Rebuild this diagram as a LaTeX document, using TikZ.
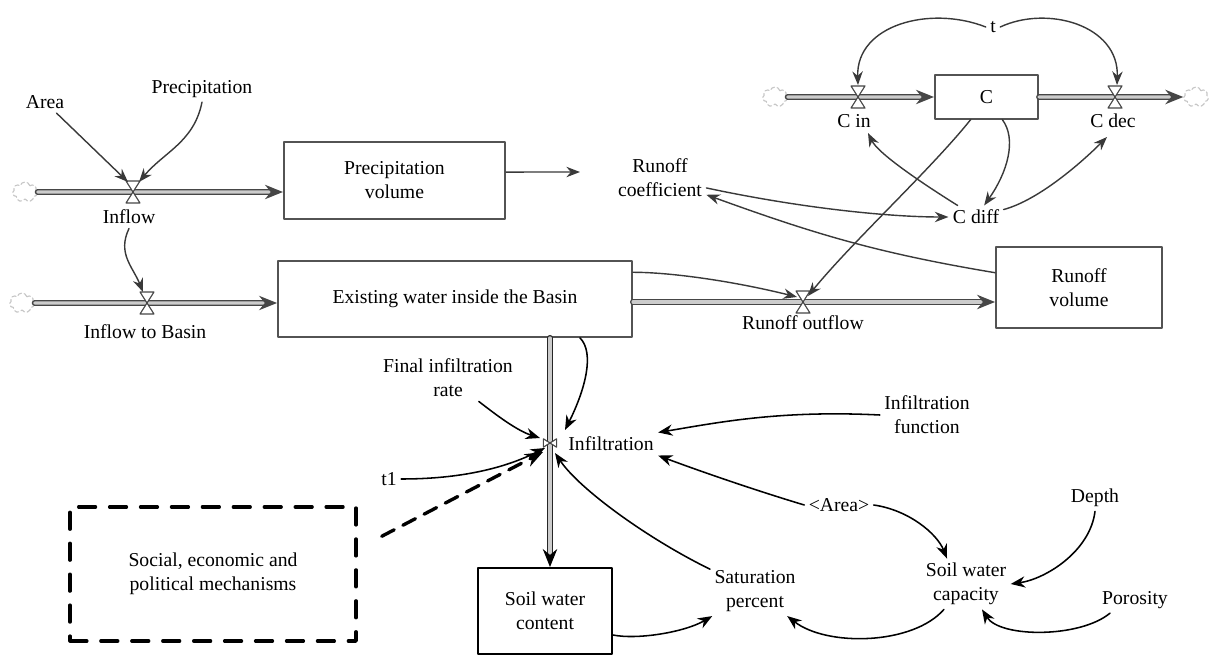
\documentclass[tikz,border=0pt]{standalone}
\usepackage{fontspec}
\setmainfont{Liberation Serif}
\usetikzlibrary{arrows.meta,shapes.symbols,calc}
\tikzstyle{stock} = [rectangle, draw=gray!65!black, line width=1.3pt, align=center, inner sep=2pt]
\tikzstyle{socialbox} = [rectangle, draw=black, line width=2.4pt, dash pattern=on 12pt off 10pt, align=center]
\tikzstyle{aux} = [align=center, inner sep=3pt]
\tikzstyle{pipe} = [draw=gray!55!black, double=gray!40, double distance=2.2pt, line width=1pt,
  -{Stealth[length=4.5mm, width=3.6mm]}]
\tikzstyle{link} = [-{Stealth[length=3.4mm, width=2.6mm]}, gray!45!black, line width=1pt]
\tikzstyle{blink} = [-{Stealth[length=3.6mm, width=2.8mm]}, black, line width=1.1pt]
\tikzstyle{cloudy} = [cloud, cloud puffs=7, draw=gray!45, densely dashed, line width=0.8pt,
  minimum width=0.62cm, minimum height=0.5cm, inner sep=0pt]
\tikzset{valve/.pic={
    \draw[gray!55!black, fill=white, line width=0.8pt] (-7,-11) -- (7,-11) -- (0,0) -- cycle;
    \draw[gray!55!black, fill=white, line width=0.8pt] (-7,11) -- (7,11) -- (0,0) -- cycle;
}}

\begin{document}
\begin{tikzpicture}[x=0.025cm, y=-0.025cm, line join=round, line cap=round,
	font=\fontsize{14}{17}\selectfont]
	% units are pixels of the original picture, y runs downwards
	\useasboundingbox (0,0) rectangle (1210,656);
	
	% ---- 1. stocks ----
	\node[stock, minimum width=5.53cm, minimum height=1.93cm] (pvol) at (394.5,180.5) {Precipitation\\volume};
	\node[stock, minimum width=8.85cm, minimum height=1.9cm] (exist) at (455,299) {Existing water inside the Basin};
	\node[stock, minimum width=2.58cm, minimum height=1.08cm] (cstock) at (986.5,97) {C};
	\node[stock, minimum width=4.15cm, minimum height=2.03cm] (rvol) at (1079,287.5) {Runoff\\volume};
	\node[stock, draw=black, minimum width=3.35cm, minimum height=2.15cm] (swcont) at (545,611) {Soil water\\content};
	\node[socialbox, minimum width=7.15cm, minimum height=3.35cm] (social) at (213,574) {Social, economic and\\political mechanisms};
	
	% ---- 2. clouds and valves ----
	\node[cloudy] (cl1) at (25,192) {};
	\node[cloudy] (cl2) at (22,303) {};
	\node[cloudy] (cl3) at (775,97) {};
	\node[cloudy] (cl4) at (1196,97) {};
	\coordinate (vin) at (133,192);
	\coordinate (vbas) at (147,303);
	\coordinate (vrun) at (803,302);
	\coordinate (vcin) at (858,97);
	\coordinate (vcdec) at (1115,97);
	\coordinate (vinf) at (550,443);
	
	% ---- 3. pipes ----
	\draw[pipe] (cl1.east) -- (vin) -- (vin -| pvol.west);
	\draw[pipe] (cl2.east) -- (vbas) -- (vbas -| exist.west);
	\draw[pipe] (exist.east |- vrun) -- (vrun) -- (vrun -| rvol.west);
	\draw[pipe] (cl3.east) -- (vcin) -- (cstock.west);
	\draw[pipe] (cstock.east) -- (vcdec) -- (cl4.west);
	\draw[pipe, draw=gray!30!black, -{Stealth[length=4.5mm, width=3.6mm, black]}] (vinf |- exist.south) -- (vinf) -- (vinf |- swcont.north);
	\pic at (vin) {valve};
	\pic at (vbas) {valve};
	\pic at (vrun) {valve};
	\pic at (vcin) {valve};
	\pic at (vcdec) {valve};
	\pic[scale=0.6, rotate=90] at (vinf) {valve};
	
	% ---- 4. variables ----
	\node[aux] (area) at (45,102) {Area};
	\node[aux] (prec) at (202,89) {Precipitation};
	\node[aux] (linflow) at (129,217) {Inflow};
	\node[aux] (lbas) at (145,332) {Inflow to Basin};
	\node[aux] (rcoef) at (660,178) {Runoff\\coefficient};
	\node[aux] (lrun) at (803,323) {Runoff outflow};
	\node[aux] (tt) at (993,27) {t};
	\node[aux] (lcin) at (854,121) {C in};
	\node[aux] (lcdec) at (1113,121) {C dec};
	\node[aux] (cdiff) at (976,217) {C diff};
	\node[aux] (frate) at (448,378) {Final infiltration\\rate};
	\node[aux] (tone) at (389,479) {t1};
	\node[aux] (linf) at (611,444) {Infiltration};
	\node[aux] (inffun) at (927,415) {Infiltration\\function};
	\node[aux] (larea) at (839,505) {<Area>};
	\node[aux] (depth) at (1095,498) {Depth};
	\node[aux] (poro) at (1135,600) {Porosity};
	\node[aux] (swcap) at (966,584) {Soil water\\capacity};
	\node[aux] (satp) at (755,591) {Saturation\\percent};
	\coordinate (pend) at (580,172);
	
	% ---- 5. links of the upper part ----
	\draw[link] (area) -- ([shift={(-5,-10)}]vin);
	\draw[link] (prec.south) .. controls +(-8,40) and +(25,-30) .. ([shift={(6,-10)}]vin);
	\draw[link] (linflow.south) .. controls +(-12,25) and +(-10,-25) .. ([shift={(-4,-11)}]vbas);
	\draw[link] ([yshift=6pt]pvol.east) -- (pend);
	\draw[link] ([shift={(60,15)}]rcoef) .. controls +(80,15) and +(-60,0) .. (cdiff.west);
	\draw[link] (rvol.170) .. controls +(-120,-20) and +(90,30) .. ([shift={(62,25)}]rcoef);
	\draw[link] (tt.west) .. controls +(-56,-22) and +(-2,-60) .. ([shift={(0,-12)}]vcin);
	\draw[link] (tt.east) .. controls +(47,-22) and +(2,-60) .. ([shift={(2,-12)}]vcdec);
	\draw[link] (cstock.-55) .. controls +(15,20) and +(10,-25) .. ([shift={(21,-19)}]cdiff);
	\draw[link] ([shift={(-29,-17)}]cdiff) .. controls +(-30,-20) and +(10,20) .. ([shift={(10,36)}]vcin);
	\draw[link] ([shift={(33,-9)}]cdiff) .. controls +(30,-8) and +(-25,25) .. ([shift={(-8,40)}]vcdec);
	\draw[link] (cstock.-125) .. controls +(-40,50) and +(45,-55) .. ([shift={(5,-6)}]vrun);
	\draw[link] ([yshift=19pt]exist.east) .. controls +(40,0) and +(-60,-15) .. ([shift={(-6,-5)}]vrun);
	
	% ---- 6. links of the lower part ----
	\draw[blink] ([shift={(125,0)}]exist.south) .. controls +(15,15) and +(20,-40) .. ([shift={(15,-13)}]vinf);
	\draw[blink] ([shift={(17,17)}]frate) .. controls +(25,15) and +(-25,-8) .. ([shift={(-10,-5)}]vinf);
	\draw[blink] (tone.east) .. controls +(60,0) and +(-40,20) .. ([shift={(-5,5)}]vinf);
	\draw[blink, line width=2.4pt, dash pattern=on 10pt off 7pt, -{Stealth[length=4.5mm, width=3.4mm]}]
	([shift={(24,31)}]social.north east) -- ([shift={(-7,9)}]vinf);
	\draw[blink] ([shift={(-58,-23)}]satp) .. controls +(-47,-28) and +(25,37) .. ([shift={(5,10)}]vinf);
	\draw[blink] (inffun.west) .. controls +(-100,-5) and +(60,-10) .. (linf.north east);
	\draw[blink] (larea.west) .. controls +(-50,-15) and +(40,15) .. (linf.south east);
	\draw[blink] (larea.east) .. controls +(35,5) and +(-10,-25) .. ([shift={(-19,0)}]swcap.north);
	\draw[blink] (depth.south) .. controls +(-5,40) and +(35,-5) .. (swcap.east);
	\draw[blink] ([shift={(-25,0)}]poro.south) .. controls +(-30,25) and +(30,35) .. ([shift={(4,19)}]swcap);
	\draw[blink] ([shift={(-23,26)}]swcap) .. controls +(-30,35) and +(40,25) .. ([shift={(32,31)}]satp);
	\draw[blink] ([shift={(0,24)}]swcont.east) .. controls +(25,5) and +(-40,10) .. ([shift={(-30,31)}]satp);
\end{tikzpicture}
\end{document}
